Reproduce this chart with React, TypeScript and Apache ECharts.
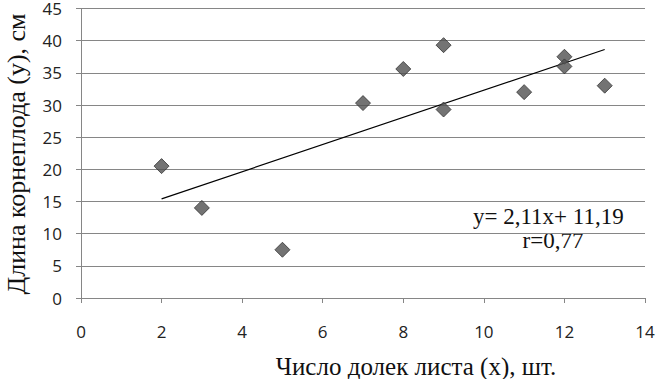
import React, { useEffect, useRef } from "react";
import * as echarts from "echarts";

const xValues = [2, 3, 5, 7, 8, 9, 9, 11, 12, 12, 13];
const yValues = [20.5, 14.0, 7.5, 30.3, 35.6, 39.3, 29.3, 32.0, 37.5, 36.0, 33.0];
const trendSlope = 2.11;
const trendIntercept = 11.19;
const trendRange = [2, 13];
const equationLines = ["y= 2,11x+ 11,19", "r=0,77"];
const xTitle = "Число долек листа (х), шт.";
const yTitle = "Длина корнеплода (у), см";

export default function App() {
  const ref = useRef<HTMLDivElement>(null);
  useEffect(() => {
    const chart = echarts.init(ref.current!, null, { renderer: "svg" });
    const points = xValues.map((x, i) => [x, yValues[i]]);
    const trend = trendRange.map((x) => [x, trendSlope * x + trendIntercept]);
    const serif = "'Liberation Serif', 'Times New Roman', serif";
    const sans = "'Open Sans', sans-serif";
    chart.setOption({
      animation: false,
      backgroundColor: "#ffffff",
      grid: { left: 81, right: 13, top: 7, bottom: 81, containLabel: false },
      xAxis: {
        type: "value",
        min: 0,
        max: 14,
        interval: 2,
        axisLine: { show: true, onZero: false, lineStyle: { color: "#868686", width: 1 } },
        axisTick: { show: true, length: 5, lineStyle: { color: "#868686" } },
        axisLabel: { color: "#222222", fontSize: 17, fontFamily: sans, margin: 25 },
        splitLine: { show: false },
      },
      yAxis: {
        type: "value",
        min: 0,
        max: 45,
        interval: 5,
        axisLine: { show: true, lineStyle: { color: "#868686", width: 1 } },
        axisTick: { show: true, length: 5, lineStyle: { color: "#868686" } },
        axisLabel: { color: "#222222", fontSize: 17, fontFamily: sans, margin: 19 },
        splitLine: { show: true, lineStyle: { color: "#868686", width: 1 } },
      },
      series: [
        {
          type: "line",
          data: trend,
          showSymbol: false,
          symbol: "none",
          lineStyle: { color: "#000000", width: 1.2 },
          z: 2,
        },
        {
          type: "scatter",
          data: points,
          symbol: "diamond",
          symbolSize: [15, 15],
          itemStyle: { color: "#505050", borderColor: "#333333", borderWidth: 1 },
          z: 3,
        },
      ],
      graphic: [
        {
          type: "text",
          x: 473,
          y: 216,
          style: {
            text: equationLines[0],
            font: `23px ${serif}`,
            fill: "#111111",
            align: "left",
            verticalAlign: "middle",
          },
        },
        {
          type: "text",
          x: 553,
          y: 240,
          style: {
            text: equationLines[1],
            font: `23px ${serif}`,
            fill: "#111111",
            align: "center",
            verticalAlign: "middle",
          },
        },
        {
          type: "text",
          x: 416,
          y: 366,
          style: {
            text: xTitle,
            font: `25px ${serif}`,
            fill: "#111111",
            align: "center",
            verticalAlign: "middle",
          },
        },
        {
          type: "text",
          x: 16,
          y: 154,
          rotation: Math.PI / 2,
          style: {
            text: yTitle,
            font: `26px ${serif}`,
            fill: "#111111",
            align: "center",
            verticalAlign: "middle",
          },
        },
      ],
    });
    return () => chart.dispose();
  }, []);
  return <div ref={ref} style={{ width: 658, height: 379, position: "absolute", left: 0, top: 0 }} />;
}
